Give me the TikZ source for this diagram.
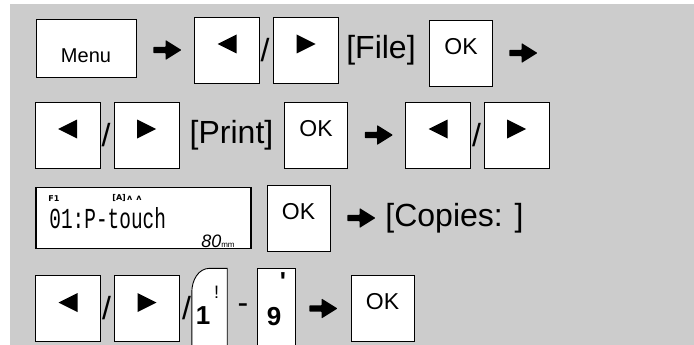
\documentclass[tikz,border=0pt]{standalone}
\usepackage{fontspec}
\setmainfont{Liberation Sans}
\newfontfamily\dejavu{DejaVu Sans}
\newfontfamily\lcdmono{Liberation Mono}
\usetikzlibrary{positioning,shapes.arrows}
\definecolor{panelgray}{HTML}{CCCCCC}

\begin{document}
\begin{tikzpicture}[%
        x=1pt, y=-1pt,
        on grid,
        key/.style={draw, fill=white, line width=0.9pt, inner sep=0pt,
            minimum width=65pt, minimum height=66pt},
        leftkey/.style={key, path picture={\fill[black] ([xshift=-9.5pt,yshift=6pt]path picture bounding box.center)
            -- ++(19pt,9.5pt) -- ++(0pt,-19pt) -- cycle;}},
        rightkey/.style={key, path picture={\fill[black] ([xshift=9.5pt,yshift=6pt]path picture bounding box.center)
            -- ++(-19pt,9.5pt) -- ++(0pt,-19pt) -- cycle;}},
        okkey/.style={key, minimum width=63pt, font=\fontsize{23}{24}\selectfont, text depth=14pt},
        menukey/.style={key, minimum width=100pt, minimum height=58pt,
            font=\fontsize{20}{22}\selectfont, text height=28.3pt, text depth=0pt},
        word/.style={inner sep=0pt, font=\fontsize{32}{34}\selectfont},
        arrowsym/.style={single arrow, fill=black, inner xsep=0pt, inner ysep=2.9pt,
            minimum height=28pt, single arrow head extend=6.8pt, single arrow tip angle=64,
            rounded corners=0.6pt},
        capkey/.style={inner sep=0pt, minimum width=35pt, minimum height=80pt},
        keyline/.style={line width=0.9pt, fill=white},
        digit/.style={inner sep=0pt, font=\bfseries\fontsize{26}{27}\selectfont},
        shiftsym/.style={inner sep=0pt, font=\fontsize{18}{18}\selectfont},
        lcd/.style={draw, fill=white, line width=1.6pt, inner sep=0pt,
            minimum width=215pt, minimum height=61pt},
        lcdsmall/.style={inner sep=0pt, font=\dejavu\bfseries\fontsize{8}{8}\selectfont}
        ]
        \useasboundingbox (0,0) rectangle (694,345);
        \fill[panelgray] (10,4) rectangle (694,345);

        % Row 1
        \node[menukey] (menu) at (86,48) {Menu};
        \node[arrowsym, yshift=-2pt] (a1) [right=79pt of menu] {};
        \node[leftkey] (l1) [right=62pt of a1] {};
        \node[word] (s1) [right=38pt of l1] {/};
        \node[rightkey] (r1) [right=41pt of s1] {};
        \node[word] (file) [right=75pt of r1] {[File]};
        \node[okkey, yshift=-3pt] (ok1) [right=80pt of file] {OK};
        \node[arrowsym] (a2) [right=60pt of ok1] {};

        % Row 2
        \node[leftkey] (l2) at (67.5,135) {};
        \node[word] (s2) [right=38.5pt of l2] {/};
        \node[rightkey] (r2) [right=40.5pt of s2] {};
        \node[word] (print) [right=85pt of r2] {[Print]};
        \node[okkey] (ok2) [right=84.5pt of print] {OK};
        \node[arrowsym] (a3) [right=60.5pt of ok2] {};
        \node[leftkey] (l3) [right=61.5pt of a3] {};
        \node[word] (s3) [right=38.5pt of l3] {/};
        \node[rightkey] (r3) [right=40pt of s3] {};

        % Row 3
        \node[lcd] (screen) at (143.5,218) {};
        \node[lcdsmall, anchor=west] (fone) at ([xshift=13pt,yshift=-12pt]screen.north west) {F1};
        \node[lcdsmall, anchor=west] (caps) at ([xshift=77pt,yshift=-11pt]screen.north west) {[A]\,ʌ\enspace ʌ};
        \node[anchor=west, inner sep=0pt] (line) at ([xshift=14pt]screen.west)
            {\scalebox{0.67}[1]{\lcdmono\fontsize{29}{30}\selectfont 01:P-touch}};
        \node[anchor=base east, inner sep=0pt] (width) at ([xshift=-17pt,yshift=2pt]screen.south east)
            {{\itshape\fontsize{18}{18}\selectfont 80}{\fontsize{8}{8}\selectfont mm}};
        \node[okkey] (ok3) [right=155pt of screen] {OK};
        \node[arrowsym] (a4) [right=60.5pt of ok3] {};
        \node[word] (copies) [right=95.5pt of a4] {[Copies: ]};

        % Row 4
        \node[leftkey] (l4) at (68,308.5) {};
        \node[word] (s4) [right=38.5pt of l4] {/};
        \node[rightkey] (r4) [right=40.5pt of s4] {};
        \node[word] (s5) [right=39.5pt of r4] {/};
        \node[capkey] (one) [right=23pt of s5] {};
        \node[word] (dash) [right=33.5pt of one] {-};
        \node[capkey, minimum width=37pt] (nine) [right=33.5pt of dash] {};
        \node[arrowsym] (a5) [right=44.5pt of nine] {};
        \node[okkey] (ok4) [right=61.5pt of a5] {OK};

        % key caps
        \draw[keyline] (one.south west) -- ([yshift=-24pt]one.north west)
            to[out=90,in=180] ([xshift=18pt]one.north west) -- (one.north east) -- (one.south east);
        \draw[keyline] (nine.south west) -- (nine.north west) -- (nine.north east) -- (nine.south east);
        \node[digit] (onedigit) at (203,316) {1};
        \node[shiftsym] (bang) at (216.5,292) {!};
        \node[digit] (ninedigit) at (274,316.5) {9};
        \node[digit] (tick) at (283,282) {\textquotesingle};
\end{tikzpicture}
\end{document}
